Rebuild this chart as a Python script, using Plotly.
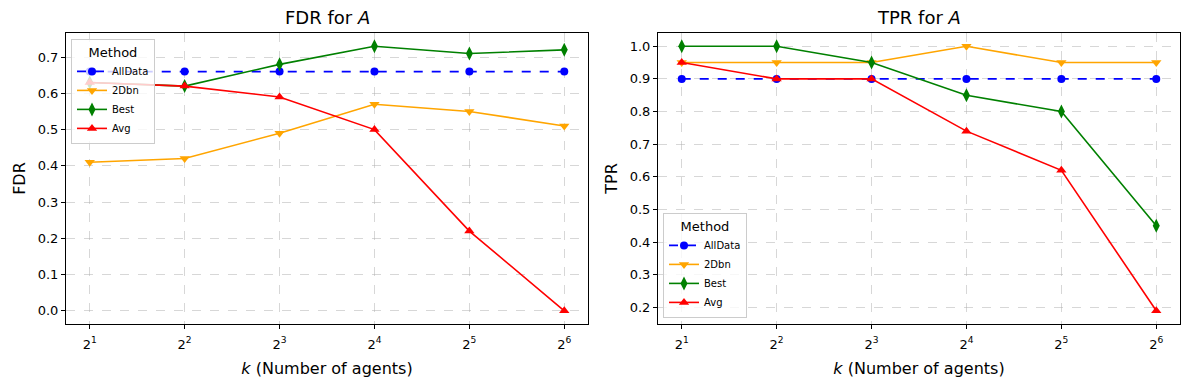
import plotly.graph_objects as go

exponents = [1, 2, 3, 4, 5, 6]
tick_labels = ["2<sup>1</sup>", "2<sup>2</sup>", "2<sup>3</sup>", "2<sup>4</sup>", "2<sup>5</sup>", "2<sup>6</sup>"]
methods = ["AllData", "2Dbn", "Best", "Avg"]

fdr_alldata = [0.66, 0.66, 0.66, 0.66, 0.66, 0.66]
fdr_2dbn = [0.41, 0.42, 0.49, 0.57, 0.55, 0.51]
fdr_best = [0.63, 0.62, 0.68, 0.73, 0.71, 0.72]
fdr_avg = [0.63, 0.62, 0.59, 0.50, 0.22, 0.00]

tpr_alldata = [0.90, 0.90, 0.90, 0.90, 0.90, 0.90]
tpr_2dbn = [0.95, 0.95, 0.95, 1.00, 0.95, 0.95]
tpr_best = [1.00, 1.00, 0.95, 0.85, 0.80, 0.45]
tpr_avg = [0.95, 0.90, 0.90, 0.74, 0.62, 0.19]

styles = {
    "AllData": dict(color="blue", symbol="circle", dash="dash", size=8),
    "2Dbn": dict(color="orange", symbol="triangle-down", dash="solid", size=9),
    "Best": dict(color="green", symbol="diamond-tall", dash="solid", size=10),
    "Avg": dict(color="red", symbol="triangle-up", dash="solid", size=9),
}

FONT = "DejaVu Sans, Arial, sans-serif"

# the page body has an 8px margin, so the figure is a bit smaller than the window
W, H = 1181, 382

fig = go.Figure()

panels = [
    ("x", "y", "legend", [fdr_alldata, fdr_2dbn, fdr_best, fdr_avg]),
    ("x2", "y2", "legend2", [tpr_alldata, tpr_2dbn, tpr_best, tpr_avg]),
]
for xa, ya, leg, series in panels:
    for name, vals in zip(methods, series):
        s = styles[name]
        fig.add_trace(go.Scatter(
            x=exponents, y=vals, name=name, mode="lines+markers",
            xaxis=xa, yaxis=ya, legend=leg,
            line=dict(color=s["color"], width=1.6, dash=s["dash"]),
            marker=dict(color=s["color"], symbol=s["symbol"], size=s["size"]),
        ))

axis_common = dict(
    showline=True, linecolor="black", linewidth=1, mirror=True,
    ticks="outside", ticklen=4, tickcolor="black", automargin=False,
    showgrid=True, gridcolor="rgba(176,176,176,0.5)", griddash="dash", gridwidth=1,
    zeroline=False, tickfont=dict(size=13, color="black", family=FONT),
)

xa_common = dict(axis_common, tickvals=exponents, ticktext=tick_labels, range=[0.75, 6.25],
                 ticklabelstandoff=4,
                 title=dict(text="<i>k</i> (Number of agents)", font=dict(size=16, family=FONT), standoff=12))

legend_common = dict(
    bgcolor="rgba(255,255,255,0.8)", bordercolor="#cccccc", borderwidth=1,
    font=dict(size=10, family=FONT), tracegroupgap=0, itemwidth=30,
    title=dict(text="Method", font=dict(size=13, family=FONT), side="top center"),
)

y_dom = [1 - 316 / H, 1 - 25 / H]

fig.update_layout(
    width=W, height=H,
    margin=dict(l=0, r=0, t=0, b=0),
    paper_bgcolor="white", plot_bgcolor="white",
    font=dict(family=FONT, color="black"),
    xaxis=dict(xa_common, domain=[58 / W, 580 / W], anchor="y"),
    xaxis2=dict(xa_common, domain=[650 / W, 1172 / W], anchor="y2"),
    yaxis=dict(axis_common, domain=y_dom, anchor="x", range=[-0.0365, 0.7665],
               tickvals=[0, 0.1, 0.2, 0.3, 0.4, 0.5, 0.6, 0.7], tickformat=".1f",
               title=dict(text="FDR", font=dict(size=16, family=FONT), standoff=8)),
    yaxis2=dict(axis_common, domain=y_dom, anchor="x2", range=[0.1495, 1.0405],
                tickvals=[0.2, 0.3, 0.4, 0.5, 0.6, 0.7, 0.8, 0.9, 1.0], tickformat=".1f",
                title=dict(text="TPR", font=dict(size=16, family=FONT), standoff=8)),
    legend=dict(legend_common, x=63 / W, y=1 - 31 / H, xanchor="left", yanchor="top"),
    legend2=dict(legend_common, x=655 / W, y=1 - 310 / H, xanchor="left", yanchor="bottom"),
    annotations=[
        dict(text="FDR for <i>A</i>", x=319 / W, y=1 - 10 / H, xref="paper", yref="paper",
             xanchor="center", yanchor="middle", showarrow=False, font=dict(size=18, family=FONT)),
        dict(text="TPR for <i>A</i>", x=911 / W, y=1 - 10 / H, xref="paper", yref="paper",
             xanchor="center", yanchor="middle", showarrow=False, font=dict(size=18, family=FONT)),
    ],
)

fig.write_html("out.html")
